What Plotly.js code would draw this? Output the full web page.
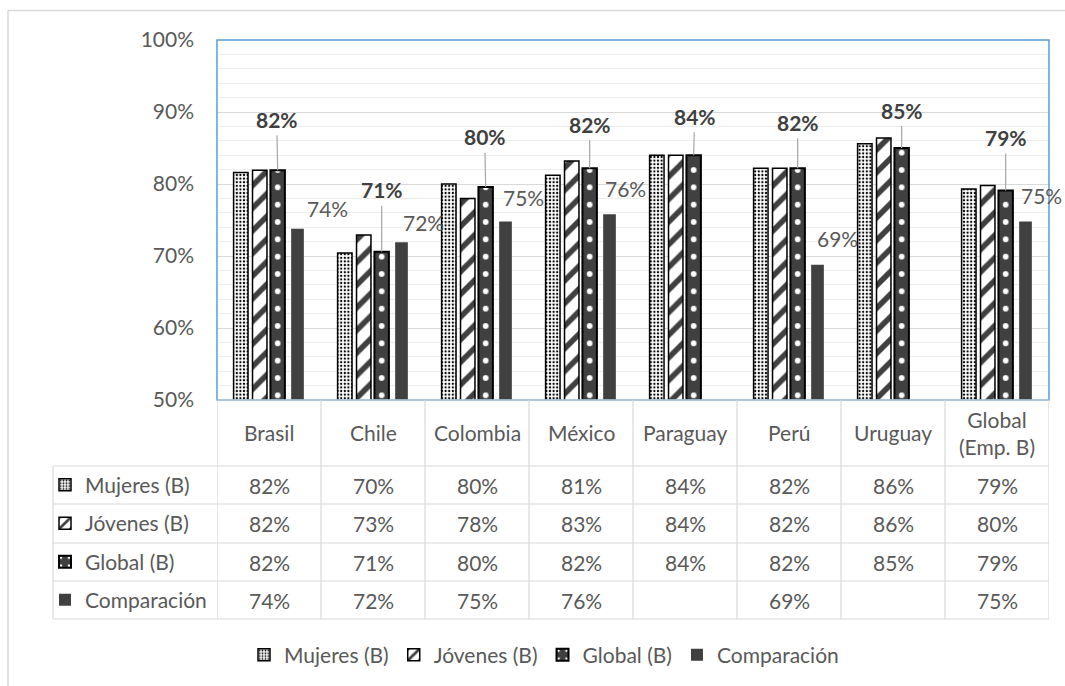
<!DOCTYPE html>
<html>
<head>
<meta charset="utf-8">
<script src="https://cdn.plot.ly/plotly-3.0.1.min.js"></script>
<style>
  html, body { margin: 0; padding: 0; background: #ffffff; }
  #chart { width: 1065px; height: 686px; }
</style>
</head>
<body>
<div id="chart"></div>
<script>
// Categories (countries) and series values, in percent
const categories = ['Brasil', 'Chile', 'Colombia', 'México', 'Paraguay', 'Perú', 'Uruguay', 'Global<br>(Emp. B)'];
const seriesNames = ['Mujeres (B)', 'Jóvenes (B)', 'Global (B)', 'Comparación'];
const mujeres     = [81.6, 70.4, 80.0, 81.2, 84.0, 82.2, 85.6, 79.3];
const jovenes     = [81.9, 72.9, 78.0, 83.2, 84.0, 82.2, 86.4, 79.8];
const globalB     = [81.9, 70.6, 79.6, 82.2, 84.0, 82.2, 85.0, 79.1];
const comparacion = [73.8, 71.9, 74.8, 75.8, null, 68.8, null, 74.8];
const yTickVals   = [50, 60, 70, 80, 90, 100];

// Label placement (pixel offsets) for the Global (B) callouts and Comparación labels
const globalLabelOffsets = [[-1, -51], [0, -62], [-1, -50], [0, -44], [1, -39], [0, -46], [0, -38], [0, -53]];
const compLabelOffsets   = [[30, 20], [22, 20], [18, 24], [16, 26], null, [20, 26], null, [16, 26]];

// Page geometry
const FIG_W = 1065, FIG_H = 686;
const M = { l: 217, r: 16, t: 40, b: 286 };
const PW = FIG_W - M.l - M.r;   // 832 -> 104 px per category
const PH = FIG_H - M.t - M.b;   // 360
const px2x = px => (px - M.l) / PW;
const py2y = py => (M.t + PH - py) / PH;

const FONT = 'Lato, Carlito, Calibri, sans-serif';
const TXT = '#595959';
const DARK = '#404040';
const FS = 21;

const idx = categories.map((_, i) => i);

// Bar styling per series: offset/width in category units
const styles = [
  { offset: -0.3405, width: 0.139,
    marker: { color: '#ffffff', line: { color: '#000000', width: 1.5 },
              pattern: { shape: '.', size: 3.6, solidity: 0.32, fgcolor: '#000000', bgcolor: '#ffffff', fillmode: 'replace' } } },
  { offset: -0.1585, width: 0.139,
    marker: { color: '#ffffff', line: { color: '#000000', width: 1.5 },
              pattern: { shape: '/', size: 16, solidity: 0.35, fgcolor: DARK, bgcolor: '#ffffff', fillmode: 'replace' } } },
  { offset: 0.0138, width: 0.139,
    marker: { color: DARK, line: { color: '#000000', width: 2 },
              pattern: { shape: '.', size: 104 / 6, solidity: 0.085, fgcolor: '#ffffff', bgcolor: DARK, fillmode: 'replace' } } },
  { offset: 0.213, width: 0.122,
    marker: { color: DARK, line: { color: DARK, width: 0 } } }
];
const seriesValues = [mujeres, jovenes, globalB, comparacion];

const traces = [];
seriesValues.forEach((vals, s) => {
  traces.push({
    type: 'bar', name: seriesNames[s], x: idx, y: vals,
    offset: styles[s].offset, width: styles[s].width,
    marker: styles[s].marker, legend: 'legend', hoverinfo: 'skip'
  });
});
// Legend keys for the data-table rows (no visible bar)
seriesValues.forEach((vals, s) => {
  traces.push({
    type: 'bar', name: seriesNames[s], x: [0], y: [null],
    marker: styles[s].marker, legend: 'legend' + (s + 2), hoverinfo: 'skip'
  });
});

const shapes = [];
const annotations = [];

// Outer chart frame (top and left edges)
shapes.push({ type: 'line', xref: 'paper', yref: 'paper', x0: px2x(8), x1: px2x(FIG_W + 5), y0: py2y(10.5), y1: py2y(10.5), line: { color: '#D9D9D9', width: 1.5 } });
shapes.push({ type: 'line', xref: 'paper', yref: 'paper', x0: px2x(8), x1: px2x(8), y0: py2y(10.5), y1: py2y(FIG_H + 5), line: { color: '#D9D9D9', width: 1.5 } });

// Plot-area border
shapes.push({ type: 'rect', xref: 'paper', yref: 'paper', x0: 0, x1: 1, y0: 0, y1: 1, line: { color: '#5B9BD5', width: 1.5 } });

// Data table grid
const rowLines = [400, 466, 504, 543, 581, 619];
rowLines.forEach((py, k) => {
  shapes.push({ type: 'line', xref: 'paper', yref: 'paper', x0: k === 0 ? 0 : px2x(53), x1: 1, y0: py2y(py), y1: py2y(py), line: { color: '#D9D9D9', width: 1.2 } });
});
for (let i = 0; i <= categories.length; i++) {
  shapes.push({ type: 'line', xref: 'x', yref: 'paper', x0: i - 0.5, x1: i - 0.5, y0: py2y(400), y1: py2y(619), line: { color: '#D9D9D9', width: 1.2 } });
}
shapes.push({ type: 'line', xref: 'paper', yref: 'paper', x0: px2x(53), x1: px2x(53), y0: py2y(466), y1: py2y(619), line: { color: '#D9D9D9', width: 1.2 } });

// Table header (categories) and cell values
categories.forEach((c, i) => {
  annotations.push({ xref: 'x', yref: 'paper', x: i, y: py2y(433), text: c, showarrow: false,
    font: { family: FONT, size: FS, color: TXT }, xanchor: 'center', yanchor: 'middle' });
});
const rowCenters = [485, 523.5, 562, 600];
seriesValues.forEach((vals, s) => {
  vals.forEach((v, i) => {
    if (v === null) return;
    annotations.push({ xref: 'x', yref: 'paper', x: i, y: py2y(rowCenters[s]), text: Math.round(v) + '%', showarrow: false,
      font: { family: FONT, size: FS, color: TXT }, xanchor: 'center', yanchor: 'middle' });
  });
});

// Global (B) callouts with leader lines
const globalCenter = styles[2].offset + styles[2].width / 2;
globalB.forEach((v, i) => {
  const o = globalLabelOffsets[i];
  annotations.push({ xref: 'x', yref: 'y', x: i + globalCenter, y: v, ax: o[0], ay: o[1],
    text: '<b>' + Math.round(v) + '%</b>', showarrow: true, arrowhead: 0, arrowwidth: 1.2,
    arrowcolor: '#A6A6A6', standoff: 0, borderpad: 3,
    font: { family: FONT, size: FS, color: DARK } });
});

// Comparación labels
const compCenter = styles[3].offset + styles[3].width / 2;
comparacion.forEach((v, i) => {
  if (v === null) return;
  const o = compLabelOffsets[i];
  annotations.push({ xref: 'x', yref: 'y', x: i + compCenter, y: v, xshift: o[0], yshift: o[1],
    text: Math.round(v) + '%', showarrow: false, xanchor: 'center', yanchor: 'middle',
    font: { family: FONT, size: FS, color: TXT } });
});

const legendFont = { family: FONT, size: FS, color: TXT };
const layout = {
  width: FIG_W, height: FIG_H,
  margin: { l: M.l, r: M.r, t: M.t, b: M.b, autoexpand: false },
  paper_bgcolor: '#ffffff', plot_bgcolor: '#ffffff',
  font: { family: FONT, size: FS, color: TXT },
  barmode: 'overlay',
  showlegend: true,
  xaxis: { range: [-0.5, categories.length - 0.5], showticklabels: false, showgrid: false, zeroline: false, showline: false, ticks: '', fixedrange: true },
  yaxis: { range: [50, 100], tickvals: yTickVals, ticktext: yTickVals.map(v => v + '%'),
    showgrid: true, gridcolor: '#D9D9D9', gridwidth: 1, zeroline: false, showline: false, ticks: '',
    ticklabelstandoff: 22, tickfont: { family: FONT, size: FS, color: TXT },
    minor: { dtick: 2, showgrid: true, gridcolor: '#EDEDED', gridwidth: 1, ticks: '' }, fixedrange: true },
  legend: { orientation: 'h', x: px2x(544), xanchor: 'center', y: py2y(655), yanchor: 'middle',
    font: legendFont, bgcolor: 'rgba(0,0,0,0)', traceorder: 'normal', itemclick: false, itemdoubleclick: false },
  shapes: shapes,
  annotations: annotations
};
rowCenters.forEach((py, s) => {
  layout['legend' + (s + 2)] = { x: px2x(45), xanchor: 'left', y: py2y(py), yanchor: 'middle',
    font: legendFont, bgcolor: 'rgba(0,0,0,0)', itemclick: false, itemdoubleclick: false };
});

Plotly.newPlot('chart', traces, layout, { displayModeBar: false, staticPlot: true });
</script>
</body>
</html>
